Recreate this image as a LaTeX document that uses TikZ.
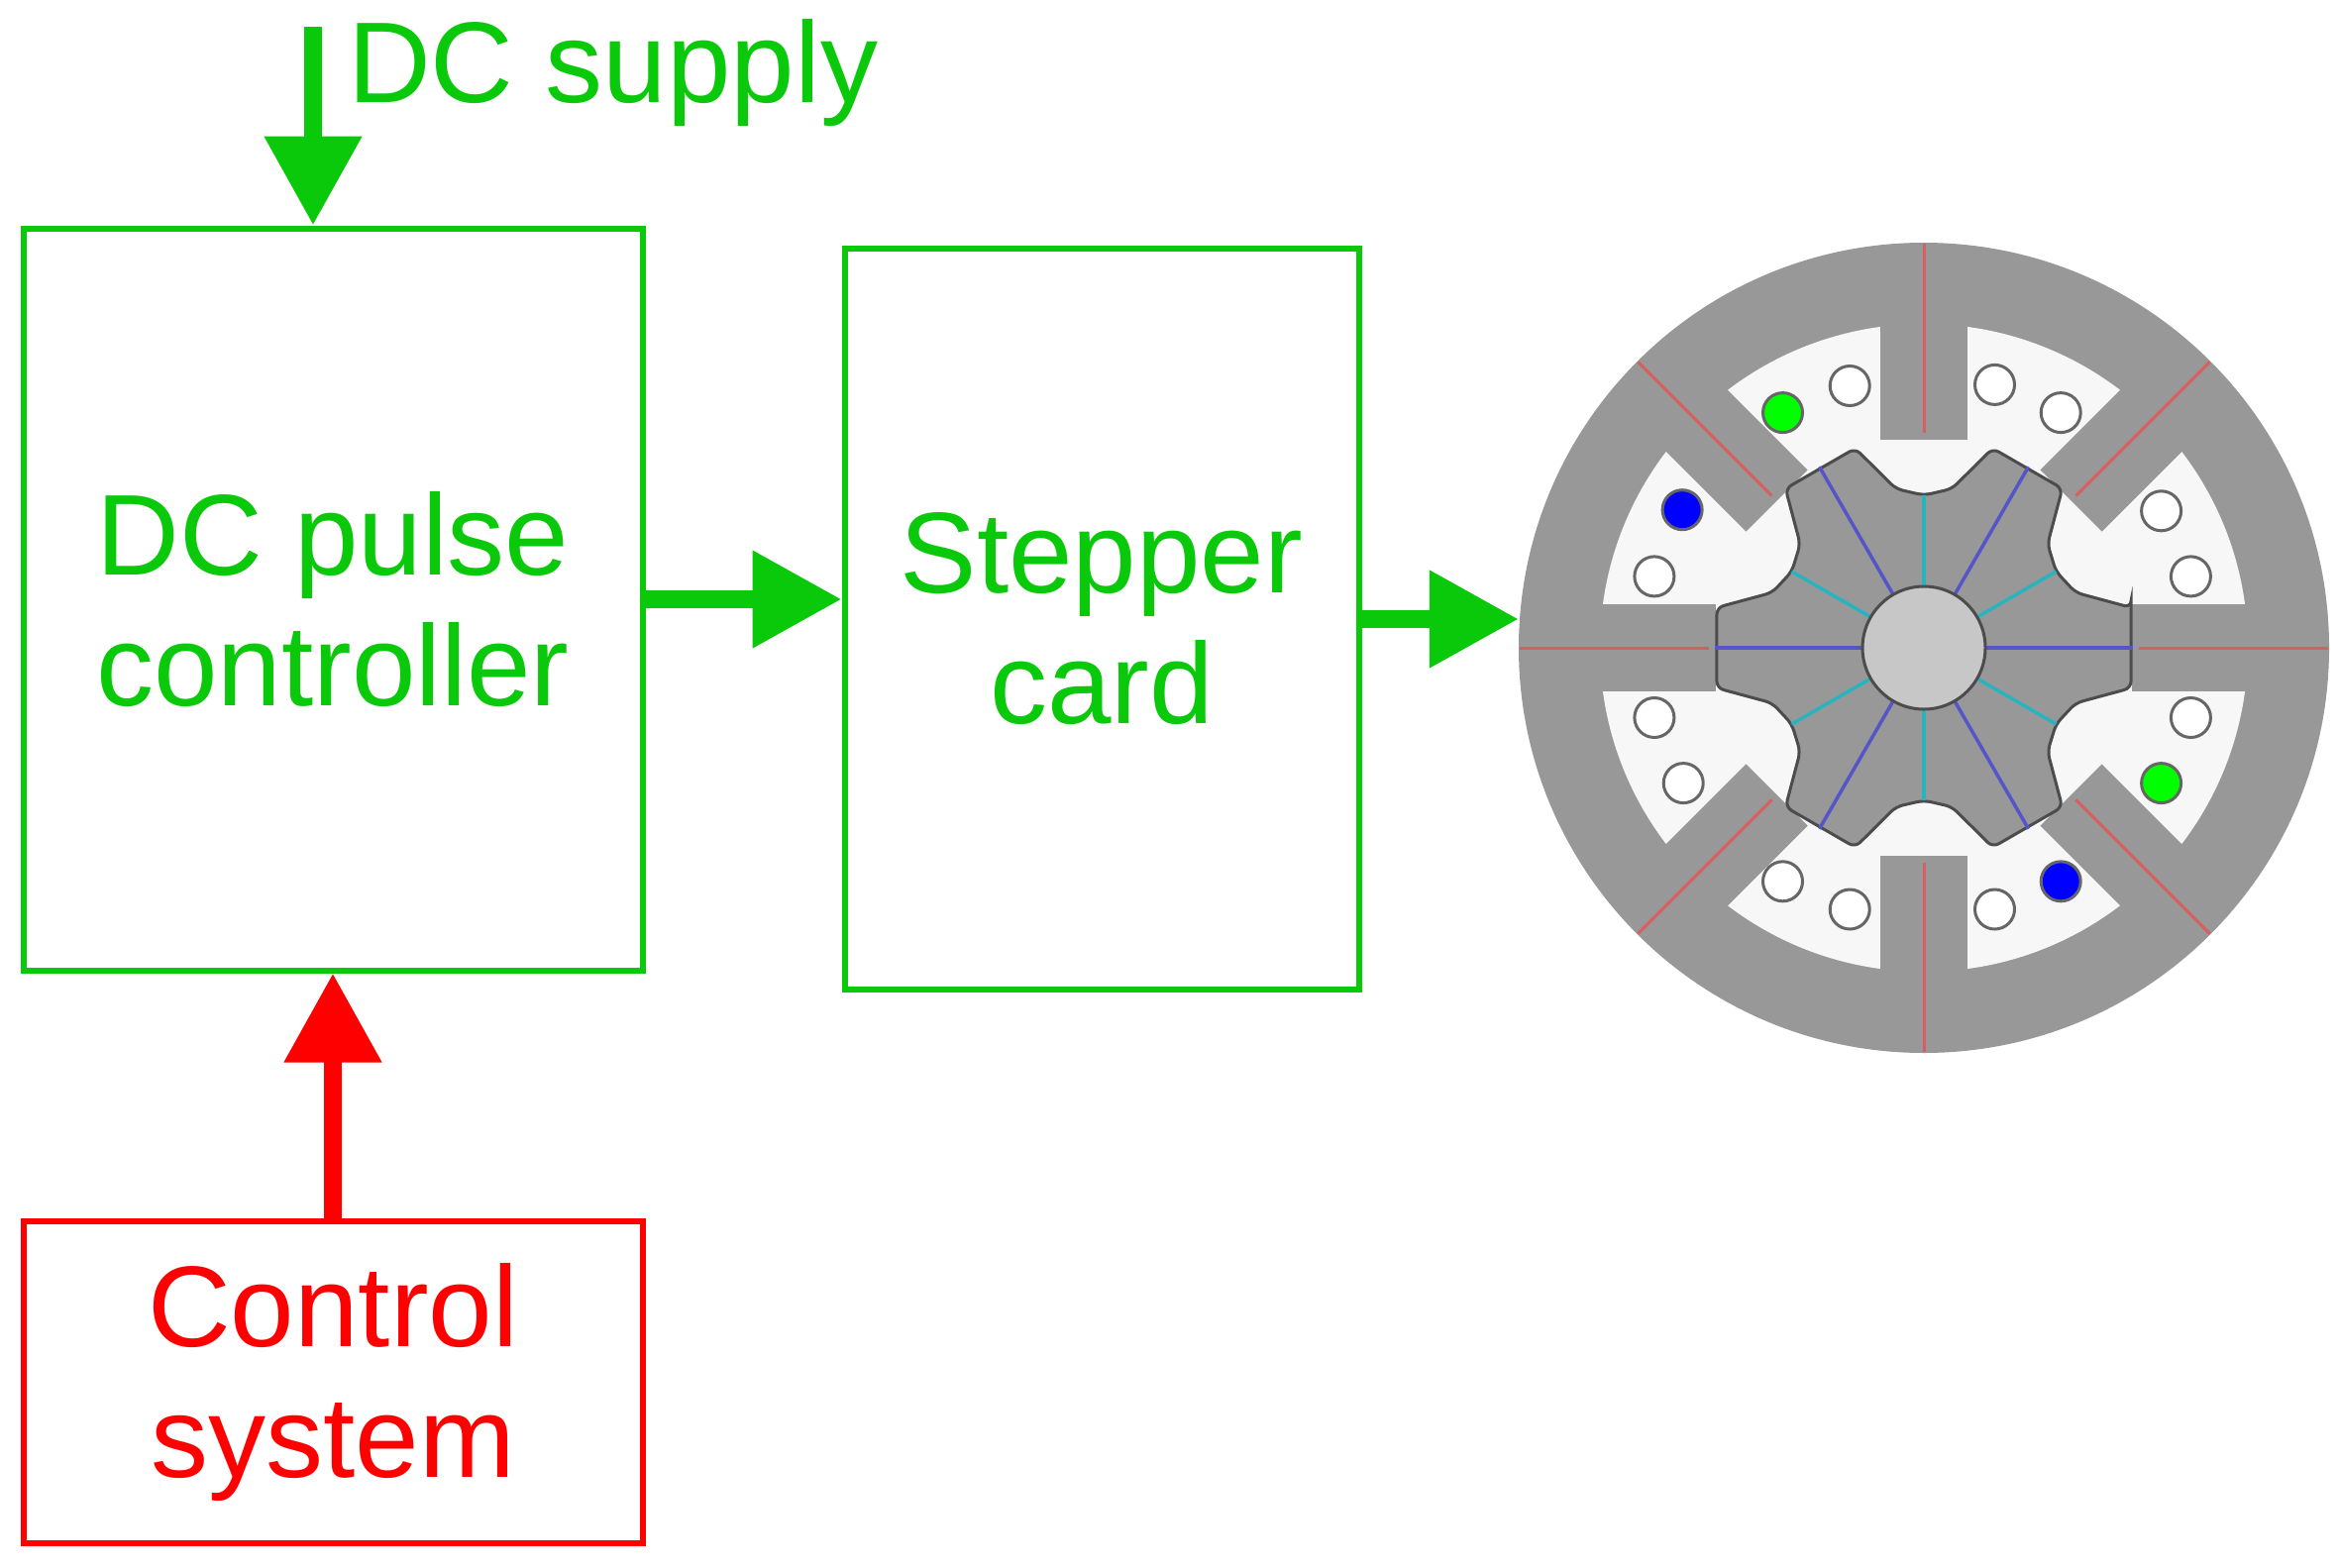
\documentclass[tikz,border=0pt]{standalone}
\usepackage{fontspec}
\setmainfont{Liberation Sans}
\usetikzlibrary{arrows.meta}
\definecolor{gr}{RGB}{10,200,10}
\definecolor{rd}{RGB}{255,0,0}
\definecolor{mg}{RGB}{152,152,152}
\definecolor{lr}{RGB}{215,95,95}
\definecolor{bl}{RGB}{85,85,200}
\definecolor{cy}{RGB}{40,180,190}
\begin{document}
\begin{tikzpicture}[x=1pt,y=-1pt,
  box/.style={draw,line width=6pt,inner sep=0,align=center,font=\fontsize{116}{132}\selectfont},
  arr/.style={line width=18pt,-{Triangle[width=94pt,length=90pt]}},
  coil/.style={circle,draw=black!60,line width=3pt,fill=white,minimum size=40pt,inner sep=0}]
\useasboundingbox (0,0) rectangle (2360,1582);
\fill[white] (0,0) rectangle (2360,1582);
\node[box,draw=gr,text=gr,minimum width=625pt,minimum height=749pt] (dc) at (336,605) {DC pulse\\controller};
\node[box,draw=gr,text=gr,minimum width=519pt,minimum height=748pt] (sc) at (1112,625) {Stepper\\card};
\node[box,draw=rd,text=rd,minimum width=625pt,minimum height=325pt] (cs) at (336,1395) {Control\\system};
\coordinate (top) at (316,27);
\node[anchor=base west,text=gr,font=\fontsize{116}{132}\selectfont,inner sep=0] (lab) at (351,103) {DC supply};
\node[circle,fill=mg,minimum size=818pt,inner sep=0] (motor) at (1942,654) {};
\draw[arr,gr] (top) -- (top |- dc.north);
\draw[arr,gr] (dc.east) -- (dc.east -| sc.west);
\draw[arr,gr] (sc.east) -- (sc.east -| motor.west);
\draw[arr,rd] (cs.north) -- (dc.south);
\begin{scope}[shift={(motor.center)}]
  \fill[white!97!black] (0,0) circle[radius=327];
  \foreach \a in {0,45,...,315}{
    \fill[mg,rotate=\a] (210,-44) rectangle (340,44);
    \draw[lr,line width=3pt,rotate=\a] (217,0) -- (408,0);
  }
  \draw[black!70,fill=mg,line width=3pt,rounded corners=7pt] (-11:213)
    \foreach \t in {0,60,...,300}{ -- (\t-11:213) -- (\t+11:213) -- (\t+20:163) -- (\t+30:154) -- (\t+40:163) } -- cycle;
  \foreach \t in {0,60,...,300}{
    \draw[bl,line width=3.5pt] (\t:62) -- (\t:211);
    \draw[cy,line width=3.5pt] (\t+30:62) -- (\t+30:154);
  }
  \draw[black!70,fill=black!22,line width=3pt] (0,0) circle[radius=62];
  \foreach \p/\c in {{(-74.8,-264.5)}/white,{(-142.5,-237.4)}/green,{(71.5,-265.6)}/white,{(138.2,-237.4)}/white,
    {(239.6,-138.2)}/white,{(269.4,-72.1)}/white,{(-243.9,-139.3)}/blue,{(-272.1,-72.1)}/white,
    {(-272.1,70.5)}/white,{(-242.8,136.6)}/white,{(269.4,70.5)}/white,{(239.6,136.6)}/green,
    {(-142.5,235.8)}/white,{(-74.8,264)}/white,{(71.5,264)}/white,{(138.2,235.8)}/blue}{
    \node[coil,fill=\c] at \p {};
  }
\end{scope}
\end{tikzpicture}
\end{document}
